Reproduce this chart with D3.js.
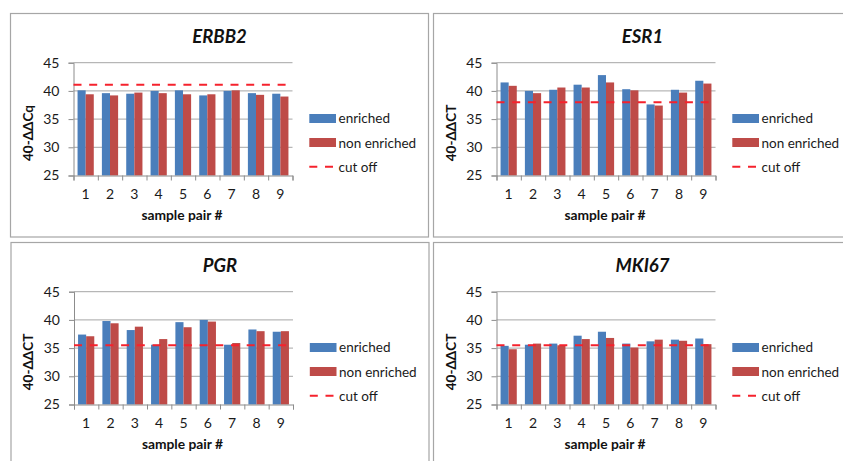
<!DOCTYPE html>
<html>
<head>
<meta charset="utf-8">
<script src="https://cdn.jsdelivr.net/npm/d3@7"></script>
<style>
  body { margin: 0; background: #fff; }
  svg { display: block; font-family: Lato, "Open Sans", sans-serif; }
</style>
</head>
<body>
<div id="chart"></div>
<script>
// chart data
const categories = ["1", "2", "3", "4", "5", "6", "7", "8", "9"];
const genes = ["ERBB2", "ESR1", "PGR", "MKI67"];
const yTitles = ["40-ΔΔCq", "40-ΔΔCT", "40-ΔΔCT", "40-ΔΔCT"];
const yTicks = [25, 30, 35, 40, 45];
const seriesNames = ["enriched", "non enriched", "cut off"];

const enrichedErbb2 = [40.1, 39.6, 39.5, 40.0, 40.1, 39.2, 40.0, 39.6, 39.5];
const nonEnrichedErbb2 = [39.4, 39.2, 39.7, 39.6, 39.4, 39.4, 40.1, 39.3, 39.0];
const enrichedEsr1 = [41.5, 40.0, 40.2, 41.1, 42.8, 40.3, 37.6, 40.2, 41.8];
const nonEnrichedEsr1 = [40.9, 39.6, 40.6, 40.6, 41.5, 40.1, 37.4, 39.7, 41.3];
const enrichedPgr = [37.4, 39.8, 38.2, 35.6, 39.6, 40.0, 35.6, 38.3, 37.9];
const nonEnrichedPgr = [37.1, 39.4, 38.8, 36.6, 38.7, 39.7, 35.9, 38.0, 38.0];
const enrichedMki67 = [35.4, 35.6, 35.8, 37.2, 37.9, 35.8, 36.2, 36.5, 36.7];
const nonEnrichedMki67 = [34.8, 35.8, 35.5, 36.6, 36.8, 35.1, 36.5, 36.3, 35.7];
const cutoffs = [41.1, 38.0, 35.5, 35.5];

const enrichedAll = [enrichedErbb2, enrichedEsr1, enrichedPgr, enrichedMki67];
const nonEnrichedAll = [nonEnrichedErbb2, nonEnrichedEsr1, nonEnrichedPgr, nonEnrichedMki67];

const W = 843, H = 461;
const blue = "#4a7ebb", red = "#be4b48", cutRed = "#f5222d";
const panelPos = [[10.5, 13.5], [433.5, 13.5], [11, 242.5], [433.5, 242.5]];

let svg = d3.select("#chart")
    .append("svg")
    .attr("width", W)
    .attr("height", H);

svg.append("rect")
    .attr("width", W)
    .attr("height", H)
    .attr("fill", "#fff");

// one panel per gene
genes.forEach((gene, gi) => {
    let [px, py] = panelPos[gi];
    let g = svg.append("g").attr("transform", `translate(${px},${py})`);

    g.append("rect")
        .attr("width", 418)
        .attr("height", 223.5)
        .attr("fill", "#fff")
        .attr("stroke", "#a6a6a6")
        .attr("stroke-width", 1.2);

    let x = d3.scaleBand().domain(categories).range([63, 282]);
    let y = d3.scaleLinear().domain([25, 45]).range([162, 49.2]);
    let bw = x.bandwidth();

    // gridlines
    g.append("g")
        .selectAll("line")
        .data(yTicks.slice(1))
        .enter().append("line")
        .attr("x1", 63).attr("x2", 282)
        .attr("y1", d => y(d)).attr("y2", d => y(d))
        .attr("stroke", "#a6a6a6")
        .attr("stroke-width", 1);

    // y axis
    let yAxis = g.append("g")
        .attr("transform", "translate(63,0)")
        .call(d3.axisLeft(y).tickValues(yTicks).tickSize(5).tickPadding(9));
    yAxis.select(".domain").attr("stroke", "#8c8c8c");
    yAxis.selectAll(".tick line").attr("stroke", "#8c8c8c");
    yAxis.selectAll("text")
        .attr("font-size", "14px")
        .attr("font-family", "Lato, sans-serif")
        .attr("fill", "#1a1a1a");

    // bars
    let en = enrichedAll[gi], ne = nonEnrichedAll[gi];
    g.append("g")
        .selectAll("rect")
        .data(categories)
        .enter().append("rect")
        .attr("x", (d) => x(d) + bw / 6)
        .attr("y", (d, i) => y(en[i]))
        .attr("width", bw / 3)
        .attr("height", (d, i) => y(25) - y(en[i]))
        .attr("fill", blue);

    g.append("g")
        .selectAll("rect")
        .data(categories)
        .enter().append("rect")
        .attr("x", (d) => x(d) + bw / 2)
        .attr("y", (d, i) => y(ne[i]))
        .attr("width", bw / 3)
        .attr("height", (d, i) => y(25) - y(ne[i]))
        .attr("fill", red);

    // x axis with ticks between categories
    let xb = d3.scaleLinear().domain([0, categories.length]).range([63, 282]);
    let xTickAxis = g.append("g")
        .attr("transform", "translate(0,162)")
        .call(d3.axisBottom(xb).ticks(categories.length).tickSize(5).tickFormat(""));
    xTickAxis.select(".domain").attr("stroke", "#8c8c8c");
    xTickAxis.selectAll(".tick line").attr("stroke", "#8c8c8c");

    let xAxis = g.append("g")
        .attr("transform", "translate(0,162)")
        .call(d3.axisBottom(x).tickSize(0).tickPadding(13.8));
    xAxis.select(".domain").remove();
    xAxis.selectAll("text")
        .attr("font-size", "14px")
        .attr("font-family", "Lato, sans-serif")
        .attr("fill", "#1a1a1a");

    // cut off line
    g.append("line")
        .attr("x1", 63).attr("x2", 282)
        .attr("y1", y(cutoffs[gi])).attr("y2", y(cutoffs[gi]))
        .attr("stroke", cutRed)
        .attr("stroke-width", 2)
        .attr("stroke-dasharray", "8,7.7");

    // titles
    g.append("text")
        .attr("x", 209).attr("y", 29)
        .attr("text-anchor", "middle")
        .attr("font-size", "18.5px")
        .attr("font-weight", "bold")
        .attr("font-style", "italic")
        .attr("fill", "#111")
        .text(gene);

    g.append("text")
        .attr("x", 171.5).attr("y", 206.5)
        .attr("text-anchor", "middle")
        .attr("font-size", "13.8px")
        .attr("font-weight", "bold")
        .attr("fill", "#111")
        .text("sample pair #");

    g.append("text")
        .attr("transform", "translate(22,119.5) rotate(-90)")
        .attr("text-anchor", "middle")
        .attr("font-size", "13.5px")
        .attr("font-weight", "bold")
        .attr("fill", "#111")
        .text(yTitles[gi]);

    // legend
    let legend = g.append("g");
    legend.append("rect")
        .attr("x", 298.8).attr("y", 100.5)
        .attr("width", 26.7).attr("height", 9)
        .attr("fill", blue);
    legend.append("rect")
        .attr("x", 298.8).attr("y", 124.5)
        .attr("width", 26.7).attr("height", 9)
        .attr("fill", red);
    legend.append("line")
        .attr("x1", 298.8).attr("x2", 323)
        .attr("y1", 153.2).attr("y2", 153.2)
        .attr("stroke", cutRed)
        .attr("stroke-width", 2)
        .attr("stroke-dasharray", "8,7.7");
    legend.selectAll("text")
        .data(seriesNames)
        .enter().append("text")
        .attr("x", 328)
        .attr("y", (d, i) => 105 + i * 24.3)
        .attr("dy", "0.35em")
        .attr("font-size", "13.5px")
        .attr("fill", "#1a1a1a")
        .text(d => d);
});
</script>
</body>
</html>
